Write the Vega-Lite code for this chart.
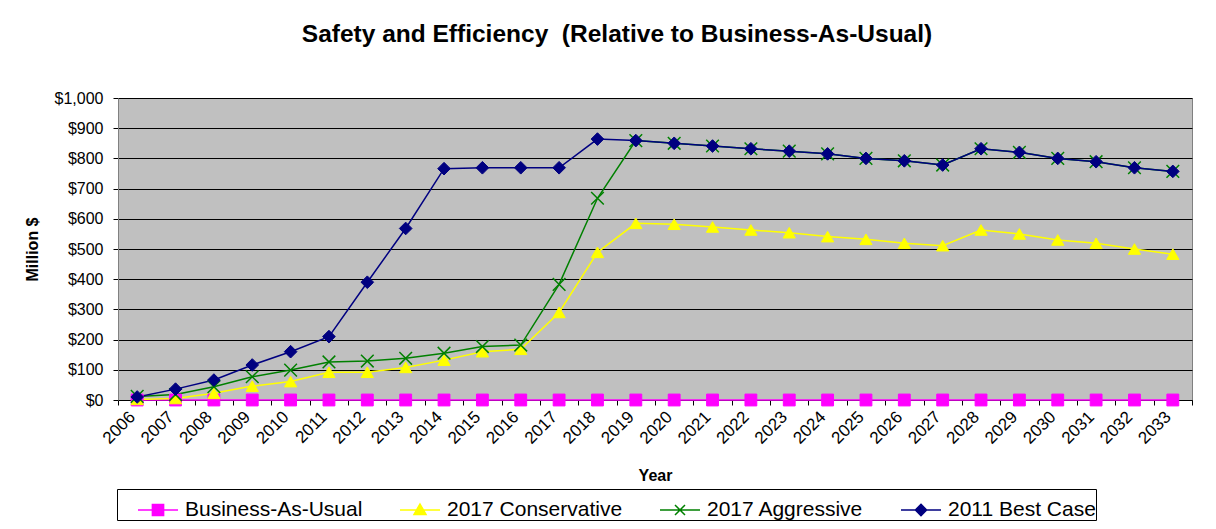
{
  "$schema": "https://vega.github.io/schema/vega-lite/v6.json",
  "width": 1074,
  "height": 302,
  "autosize": {"type": "none"},
  "padding": {"left": 118, "top": 98, "right": 24, "bottom": 129},
  "background": "white",
  "title": {"text": "Safety and Efficiency \u00a0(Relative to Business-As-Usual)", "fontSize": 24.5, "fontWeight": "bold", "anchor": "middle", "frame": "group", "dx": -38, "offset": 43, "color": "black", "font": "Liberation Sans"},
  "data": {"values": [
    {"year": 2006, "series": "Business-As-Usual", "value": 0},
    {"year": 2007, "series": "Business-As-Usual", "value": 0},
    {"year": 2008, "series": "Business-As-Usual", "value": 0},
    {"year": 2009, "series": "Business-As-Usual", "value": 0},
    {"year": 2010, "series": "Business-As-Usual", "value": 0},
    {"year": 2011, "series": "Business-As-Usual", "value": 0},
    {"year": 2012, "series": "Business-As-Usual", "value": 0},
    {"year": 2013, "series": "Business-As-Usual", "value": 0},
    {"year": 2014, "series": "Business-As-Usual", "value": 0},
    {"year": 2015, "series": "Business-As-Usual", "value": 0},
    {"year": 2016, "series": "Business-As-Usual", "value": 0},
    {"year": 2017, "series": "Business-As-Usual", "value": 0},
    {"year": 2018, "series": "Business-As-Usual", "value": 0},
    {"year": 2019, "series": "Business-As-Usual", "value": 0},
    {"year": 2020, "series": "Business-As-Usual", "value": 0},
    {"year": 2021, "series": "Business-As-Usual", "value": 0},
    {"year": 2022, "series": "Business-As-Usual", "value": 0},
    {"year": 2023, "series": "Business-As-Usual", "value": 0},
    {"year": 2024, "series": "Business-As-Usual", "value": 0},
    {"year": 2025, "series": "Business-As-Usual", "value": 0},
    {"year": 2026, "series": "Business-As-Usual", "value": 0},
    {"year": 2027, "series": "Business-As-Usual", "value": 0},
    {"year": 2028, "series": "Business-As-Usual", "value": 0},
    {"year": 2029, "series": "Business-As-Usual", "value": 0},
    {"year": 2030, "series": "Business-As-Usual", "value": 0},
    {"year": 2031, "series": "Business-As-Usual", "value": 0},
    {"year": 2032, "series": "Business-As-Usual", "value": 0},
    {"year": 2033, "series": "Business-As-Usual", "value": 0},
    {"year": 2006, "series": "2017 Conservative", "value": 2},
    {"year": 2007, "series": "2017 Conservative", "value": 5},
    {"year": 2008, "series": "2017 Conservative", "value": 22},
    {"year": 2009, "series": "2017 Conservative", "value": 46},
    {"year": 2010, "series": "2017 Conservative", "value": 61},
    {"year": 2011, "series": "2017 Conservative", "value": 92},
    {"year": 2012, "series": "2017 Conservative", "value": 92},
    {"year": 2013, "series": "2017 Conservative", "value": 108},
    {"year": 2014, "series": "2017 Conservative", "value": 132},
    {"year": 2015, "series": "2017 Conservative", "value": 160},
    {"year": 2016, "series": "2017 Conservative", "value": 168},
    {"year": 2017, "series": "2017 Conservative", "value": 290},
    {"year": 2018, "series": "2017 Conservative", "value": 489},
    {"year": 2019, "series": "2017 Conservative", "value": 585},
    {"year": 2020, "series": "2017 Conservative", "value": 582},
    {"year": 2021, "series": "2017 Conservative", "value": 573},
    {"year": 2022, "series": "2017 Conservative", "value": 563},
    {"year": 2023, "series": "2017 Conservative", "value": 554},
    {"year": 2024, "series": "2017 Conservative", "value": 541},
    {"year": 2025, "series": "2017 Conservative", "value": 532},
    {"year": 2026, "series": "2017 Conservative", "value": 519},
    {"year": 2027, "series": "2017 Conservative", "value": 511},
    {"year": 2028, "series": "2017 Conservative", "value": 563},
    {"year": 2029, "series": "2017 Conservative", "value": 550},
    {"year": 2030, "series": "2017 Conservative", "value": 530},
    {"year": 2031, "series": "2017 Conservative", "value": 519},
    {"year": 2032, "series": "2017 Conservative", "value": 500},
    {"year": 2033, "series": "2017 Conservative", "value": 483},
    {"year": 2006, "series": "2017 Aggressive", "value": 12},
    {"year": 2007, "series": "2017 Aggressive", "value": 18},
    {"year": 2008, "series": "2017 Aggressive", "value": 44},
    {"year": 2009, "series": "2017 Aggressive", "value": 77},
    {"year": 2010, "series": "2017 Aggressive", "value": 99},
    {"year": 2011, "series": "2017 Aggressive", "value": 126},
    {"year": 2012, "series": "2017 Aggressive", "value": 129},
    {"year": 2013, "series": "2017 Aggressive", "value": 138},
    {"year": 2014, "series": "2017 Aggressive", "value": 155},
    {"year": 2015, "series": "2017 Aggressive", "value": 177},
    {"year": 2016, "series": "2017 Aggressive", "value": 182},
    {"year": 2017, "series": "2017 Aggressive", "value": 383},
    {"year": 2018, "series": "2017 Aggressive", "value": 668},
    {"year": 2019, "series": "2017 Aggressive", "value": 859},
    {"year": 2020, "series": "2017 Aggressive", "value": 850},
    {"year": 2021, "series": "2017 Aggressive", "value": 841},
    {"year": 2022, "series": "2017 Aggressive", "value": 832},
    {"year": 2023, "series": "2017 Aggressive", "value": 824},
    {"year": 2024, "series": "2017 Aggressive", "value": 815},
    {"year": 2025, "series": "2017 Aggressive", "value": 800},
    {"year": 2026, "series": "2017 Aggressive", "value": 792},
    {"year": 2027, "series": "2017 Aggressive", "value": 778},
    {"year": 2028, "series": "2017 Aggressive", "value": 832},
    {"year": 2029, "series": "2017 Aggressive", "value": 820},
    {"year": 2030, "series": "2017 Aggressive", "value": 800},
    {"year": 2031, "series": "2017 Aggressive", "value": 789},
    {"year": 2032, "series": "2017 Aggressive", "value": 769},
    {"year": 2033, "series": "2017 Aggressive", "value": 757},
    {"year": 2006, "series": "2011 Best Case", "value": 10},
    {"year": 2007, "series": "2011 Best Case", "value": 36},
    {"year": 2008, "series": "2011 Best Case", "value": 66},
    {"year": 2009, "series": "2011 Best Case", "value": 116},
    {"year": 2010, "series": "2011 Best Case", "value": 160},
    {"year": 2011, "series": "2011 Best Case", "value": 210},
    {"year": 2012, "series": "2011 Best Case", "value": 390},
    {"year": 2013, "series": "2011 Best Case", "value": 568},
    {"year": 2014, "series": "2011 Best Case", "value": 766},
    {"year": 2015, "series": "2011 Best Case", "value": 769},
    {"year": 2016, "series": "2011 Best Case", "value": 769},
    {"year": 2017, "series": "2011 Best Case", "value": 769},
    {"year": 2018, "series": "2011 Best Case", "value": 864},
    {"year": 2019, "series": "2011 Best Case", "value": 859},
    {"year": 2020, "series": "2011 Best Case", "value": 850},
    {"year": 2021, "series": "2011 Best Case", "value": 841},
    {"year": 2022, "series": "2011 Best Case", "value": 832},
    {"year": 2023, "series": "2011 Best Case", "value": 824},
    {"year": 2024, "series": "2011 Best Case", "value": 815},
    {"year": 2025, "series": "2011 Best Case", "value": 800},
    {"year": 2026, "series": "2011 Best Case", "value": 792},
    {"year": 2027, "series": "2011 Best Case", "value": 778},
    {"year": 2028, "series": "2011 Best Case", "value": 832},
    {"year": 2029, "series": "2011 Best Case", "value": 820},
    {"year": 2030, "series": "2011 Best Case", "value": 800},
    {"year": 2031, "series": "2011 Best Case", "value": 789},
    {"year": 2032, "series": "2011 Best Case", "value": 769},
    {"year": 2033, "series": "2011 Best Case", "value": 757}
  ]},
  "encoding": {
    "x": {
      "field": "year", "type": "ordinal", "bandPosition": 0.5,
      "scale": {"type": "band", "paddingInner": 0, "paddingOuter": 0},
      "axis": {"title": "Year", "titleFontSize": 16, "titleFontWeight": "bold", "titleColor": "black", "titlePadding": 21,
        "labelAngle": -45, "labelAlign": "right", "labelBaseline": "middle", "labelFontSize": 17, "labelColor": "black", "labelPadding": 9, "labelOffset": -5,
        "tickBand": "extent", "tickSize": 5, "tickColor": "black", "domainColor": "black", "domainWidth": 1, "grid": false}
    },
    "y": {
      "field": "value", "type": "quantitative",
      "scale": {"domain": [0, 1000], "nice": false, "zero": true},
      "axis": {"title": "Million $", "titleFontSize": 16, "titleFontWeight": "bold", "titleColor": "black", "titlePadding": 14,
        "values": [0, 100, 200, 300, 400, 500, 600, 700, 800, 900, 1000], "format": "$,d",
        "labelFontSize": 16, "labelColor": "black", "labelPadding": 10,
        "grid": true, "gridColor": "black", "gridWidth": 1, "gridOpacity": 1,
        "tickSize": 5, "tickColor": "black", "domainColor": "#808080", "domainWidth": 1}
    }
  },
  "layer": [
    {
      "mark": {"type": "line", "strokeWidth": 1.5},
      "encoding": {
        "color": {
          "field": "series", "type": "nominal",
          "scale": {"domain": ["Business-As-Usual", "2017 Conservative", "2017 Aggressive", "2011 Best Case"], "range": ["#FF00FF", "#FFFF00", "#008000", "#000080"]},
          "legend": {
            "orient": "none", "legendX": -1, "legendY": 391, "direction": "horizontal", "columns": 4,
            "title": null, "strokeColor": "black", "padding": 0, "fillColor": "white",
            "labelFontSize": 21, "labelColor": "black", "labelFont": "Liberation Sans", "labelOffset": 6, "labelLimit": 400,
            "symbolSize": 1600, "symbolStrokeWidth": 1.5, "symbolOffset": 20, "columnPadding": 16,
            "encode": {
              "symbols": {"update": {
                "shape": {"signal": "datum.value === 'Business-As-Usual' ? 'M-1,0H1M-0.28,-0.28H0.28V0.28H-0.28Z' : datum.value === '2017 Conservative' ? 'M-1,0H1M0,-0.3L0.3,0.22H-0.3Z' : datum.value === '2017 Aggressive' ? 'M-1,0H1M-0.25,-0.25L0.25,0.25M-0.25,0.25L0.25,-0.25' : 'M-1,0H1M0,-0.28L0.28,0L0,0.28L-0.28,0Z'"},
                "fill": {"signal": "scale('color', datum.value)"},
                "stroke": {"signal": "scale('color', datum.value)"},
                "strokeWidth": {"value": 1.5},
                "opacity": {"value": 1}
              }}
            }
          }
        }
      }
    },
    {
      "transform": [{"filter": {"field": "series", "equal": "Business-As-Usual"}}],
      "mark": {"type": "point", "shape": "square", "filled": true, "fill": "#FF00FF", "stroke": "#FF00FF", "size": 140, "strokeWidth": 1, "opacity": 1}
    },
    {
      "transform": [{"filter": {"field": "series", "equal": "2017 Conservative"}}],
      "mark": {"type": "point", "shape": "triangle-up", "filled": true, "fill": "#FFFF00", "stroke": "#FFFF00", "size": 150, "strokeWidth": 1, "opacity": 1}
    },
    {
      "transform": [{"filter": {"field": "series", "equal": "2017 Aggressive"}}],
      "mark": {"type": "point", "shape": "M-1,-1L1,1M-1,1L1,-1", "filled": false, "fill": "transparent", "stroke": "#008000", "size": 160, "strokeWidth": 1.5, "opacity": 1}
    },
    {
      "transform": [{"filter": {"field": "series", "equal": "2011 Best Case"}}],
      "mark": {"type": "point", "shape": "diamond", "filled": true, "fill": "#000080", "stroke": "#000080", "size": 160, "strokeWidth": 1, "opacity": 1}
    }
  ],
  "config": {
    "font": "Liberation Sans",
    "view": {"fill": "#C0C0C0", "stroke": "#808080", "strokeWidth": 1}
  }
}
